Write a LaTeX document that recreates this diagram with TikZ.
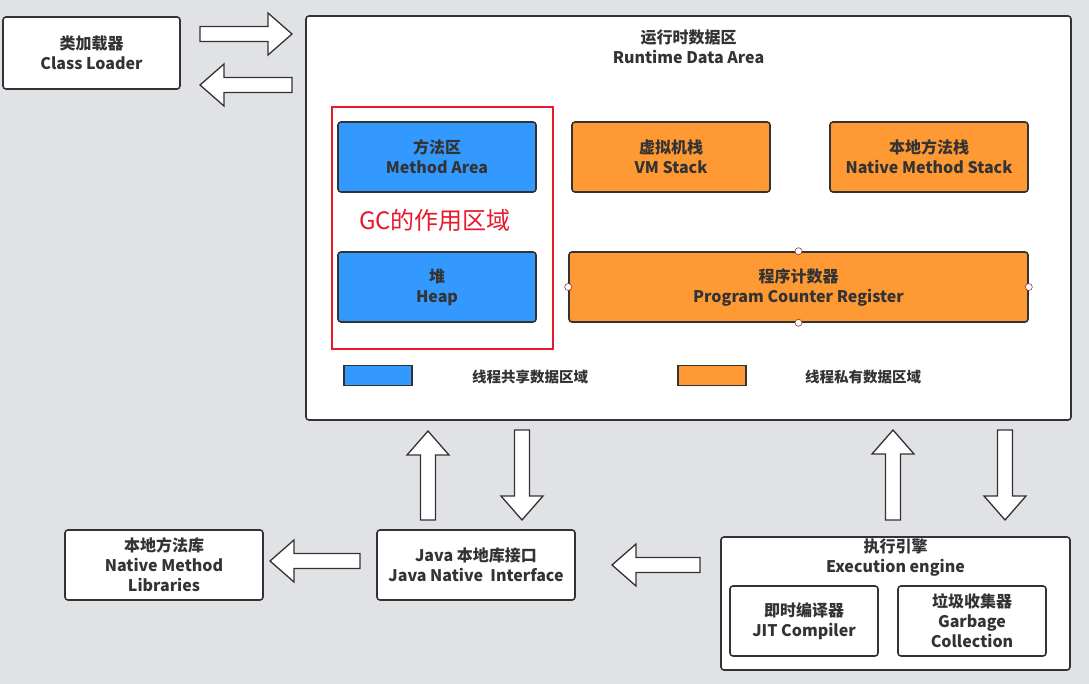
\documentclass[tikz,border=0pt]{standalone}
\usepackage{fontspec}
\setmainfont{Noto Sans CJK SC}
\usepackage{tikz}
\usetikzlibrary{calc}

\definecolor{bggray}{HTML}{E0E2E5}
\definecolor{inkgray}{HTML}{333333}
\definecolor{areablue}{HTML}{3399FF}
\definecolor{areaorange}{HTML}{FF9933}
\definecolor{gcred}{HTML}{E8192C}
\definecolor{handlered}{HTML}{A03030}

\begin{document}
\begin{tikzpicture}[x=1pt, y=-1pt]

\tikzstyle{box}=[rectangle, rounded corners=3pt, draw=inkgray, line width=1.6pt, fill=white, text=inkgray, align=center, inner sep=0pt, font=\fontsize{16}{20}\selectfont\bfseries]
\tikzstyle{bluebox}=[box, fill=areablue, minimum width=198pt, minimum height=70pt]
\tikzstyle{orangebox}=[box, fill=areaorange, minimum height=70pt]
\tikzstyle{legend}=[rectangle, draw=inkgray, line width=1.6pt, minimum width=68pt, minimum height=20pt, inner sep=0pt]
\tikzstyle{legendtext}=[text=inkgray, font=\fontsize{14.5}{17}\selectfont\bfseries]
\tikzstyle{title}=[text=inkgray, align=center, font=\fontsize{16}{20}\selectfont\bfseries]
\tikzstyle{handle}=[circle, draw=handlered, fill=white, line width=0.6pt, minimum size=7pt, inner sep=0pt]
\tikzstyle{fatarrow}=[draw=inkgray, fill=white, line width=1.3pt, line join=miter,
  to path={($(\tikztostart)!7.5pt!90:(\tikztotarget)$)
    -- ($(\tikztotarget)!24pt!(\tikztostart)!7.5pt!-90:(\tikztostart)$)
    -- ($(\tikztotarget)!24pt!(\tikztostart)!21pt!-90:(\tikztostart)$)
    -- (\tikztotarget)
    -- ($(\tikztotarget)!24pt!(\tikztostart)!21pt!90:(\tikztostart)$)
    -- ($(\tikztotarget)!24pt!(\tikztostart)!7.5pt!90:(\tikztostart)$)
    -- ($(\tikztostart)!7.5pt!-90:(\tikztotarget)$) -- cycle}]

\fill[bggray] (0,0) rectangle (1089,684);

\node (cl) [box, minimum width=177pt, minimum height=72pt] at (91.5,53) {类加载器\\Class Loader};

\node (rda) [box, minimum width=765pt, minimum height=404pt] at (688.5,218) {};
\node (rdaTitle) [title] at (688.5,47) {运行时数据区\\Runtime Data Area};

\node (gcZone) [rectangle, draw=gcred, line width=1.5pt, minimum width=221pt, minimum height=242pt] at (442.5,228) {};
\node (gcText) [text=gcred, font=\fontsize{24}{28}\selectfont] at (435,220) {GC的作用区域};

\node (ma) [bluebox] at (437,157) {方法区\\Method Area};
\node (heap) [bluebox] at (437,287) {堆\\Heap};
\node (vms) [orangebox, minimum width=198pt] at (671,157) {虚拟机栈\\VM Stack};
\node (nms) [orangebox, minimum width=198pt] at (929,157) {本地方法栈\\Native Method Stack};
\node (pcr) [orangebox, minimum width=459pt] at (798.5,287) {程序计数器\\Program Counter Register};

\node [handle] at (pcr.north) {};
\node [handle] at (pcr.south) {};
\node [handle] at (pcr.east) {};
\node [handle] at (pcr.west) {};

\node (legBlue) [legend, fill=areablue] at (378,375.5) {};
\node (legBlueText) [legendtext] at (530,377) {线程共享数据区域};
\node (legOrange) [legend, fill=areaorange] at (712,375.5) {};
\node (legOrangeText) [legendtext] at (863,377) {线程私有数据区域};

\node (nml) [box, minimum width=198pt, minimum height=70pt] at (164,565) {本地方法库\\Native Method\\Libraries};
\node (jni) [box, minimum width=198pt, minimum height=70pt] at (476,565) {Java 本地库接口\\Java Native\ \ Interface};

\node (ee) [box, minimum width=349pt, minimum height=133pt] at (895.5,603.5) {};
\node (eeTitle) [title] at (895.5,558) {执行引擎\\Execution engine};
\node (jit) [box, minimum width=148pt, minimum height=70pt] at (804,621) {即时编译器\\JIT Compiler};
\node (gcol) [box, minimum width=148pt, minimum height=70pt] at (972,621) {垃圾收集器\\Garbage\\Collection};

\coordinate (clOut) at (200,34);
\coordinate (rdaIn) at (292,34);
\coordinate (rdaOut) at (292,85);
\coordinate (clIn) at (200,85);
\coordinate (jniUp) at (428,520);
\coordinate (rdaJniIn) at (428,431);
\coordinate (rdaJniOut) at (522,430);
\coordinate (jniDown) at (522,520);
\coordinate (eeUp) at (893,520);
\coordinate (rdaEeIn) at (893,430);
\coordinate (rdaEeOut) at (1005,430);
\coordinate (eeDown) at (1005,520);
\coordinate (jniLeft) at (360,561);
\coordinate (nmlIn) at (270,561);
\coordinate (eeLeft) at (700,565);
\coordinate (jniIn) at (612,565);

\draw [fatarrow] (clOut) to (rdaIn);
\draw [fatarrow] (rdaOut) to (clIn);
\draw [fatarrow] (jniUp) to (rdaJniIn);
\draw [fatarrow] (rdaJniOut) to (jniDown);
\draw [fatarrow] (eeUp) to (rdaEeIn);
\draw [fatarrow] (rdaEeOut) to (eeDown);
\draw [fatarrow] (jniLeft) to (nmlIn);
\draw [fatarrow] (eeLeft) to (jniIn);

\end{tikzpicture}
\end{document}
